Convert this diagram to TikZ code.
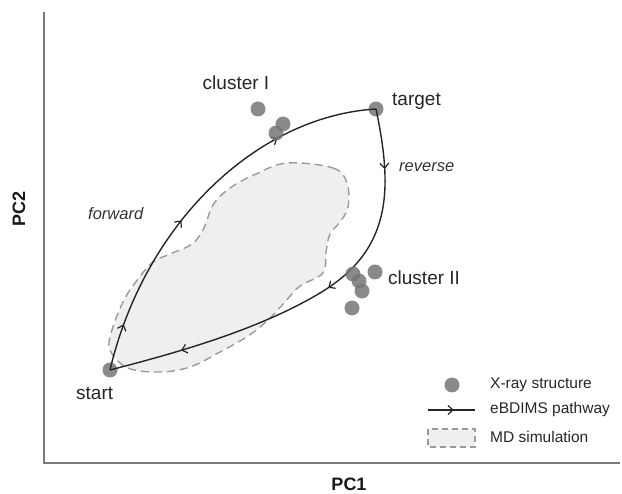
\documentclass[tikz,border=0pt]{standalone}
\usepackage{fontspec}
\setmainfont{Liberation Sans}
\usetikzlibrary{decorations.markings,arrows.meta}
\definecolor{axisgray}{HTML}{7A7A7A}
\definecolor{dotgray}{HTML}{767676}
\definecolor{mdfill}{HTML}{EFEFEF}
\definecolor{mdline}{HTML}{9A9A9A}
\definecolor{pathcol}{HTML}{252525}
\tikzset{
  axisline/.style={draw=axisgray,line width=2pt},
  xdot/.style={circle,fill=dotgray,fill opacity=0.85,minimum size=15pt,inner sep=0pt},
  mdregion/.style={fill=mdfill,draw=mdline,line width=1.4pt,dash pattern=on 8pt off 5pt},
  pathline/.style={draw=pathcol,line width=1.4pt},
  barb/.tip={Straight Barb[length=5pt,width=9pt,line width=1.2pt]},
  arrowsA/.style={postaction={decorate},decoration={markings,
     mark=at position 0.12 with {\arrow{barb}},
     mark=at position 0.42 with {\arrow{barb}},
     mark=at position 0.74 with {\arrow{barb}}}},
  arrowsB/.style={postaction={decorate},decoration={markings,
     mark=at position 0.14 with {\arrow{barb}},
     mark=at position 0.46 with {\arrow{barb}},
     mark=at position 0.83 with {\arrow{barb}}}},
  arrowsL/.style={postaction={decorate},decoration={markings,
     mark=at position 0.55 with {\arrow{barb}}}},
  lbl/.style={font=\fontsize{19}{22}\selectfont,text=black!85,inner sep=0pt},
  ilbl/.style={font=\fontsize{16.5}{20}\selectfont\itshape,text=black!80,inner sep=0pt},
  leg/.style={font=\fontsize{15.5}{18}\selectfont,text=black!85,inner sep=0pt,anchor=base west},
  axlbl/.style={font=\fontsize{18}{21}\selectfont\bfseries,text=black!90,inner sep=0pt},
}
\begin{document}
\begin{tikzpicture}[x=1pt,y=-1pt]
\useasboundingbox (0,0) rectangle (622,494);
% MD simulation region
\draw[mdregion] plot[smooth cycle,tension=0.6] coordinates {
 (287,163) (333,168) (347,183) (348,207) (340,222) (330,234) (326,252)
 (323,273) (300,286) (285,302) (268,320) (248,336) (220,352) (190,367)
 (160,372) (128,368) (110,350) (112,330) (124,300) (138,279) (153,262)
 (170,254) (192,244) (204,228) (213,205) (230,188) (256,174)};
% axes
\coordinate (ytop) at (44,12);
\coordinate (orig) at (44,463);
\coordinate (xend) at (620,463);
\draw[axisline] (ytop) -- (orig) -- (xend);
\node[axlbl] (pc1) at (349,484) {PC1};
\node[axlbl,rotate=90] (pc2) at (19,209) {PC2};
% end points
\node[xdot] (start) at (110,370) {};
\node[xdot] (target) at (376,109) {};
% pathways
\draw[pathline,arrowsA] (start.center) .. controls (145,222) and (258,116) .. (target.center);
\draw[pathline,arrowsB] (target.center) .. controls (393,190) and (392,250) .. (320,293)
   .. controls (260,329) and (180,352) .. (start.center);
% cluster I
\node[xdot] (c1a) at (258,109) {};
\node[xdot] (c1b) at (283,124) {};
\node[xdot] (c1c) at (276,133) {};
% cluster II
\node[xdot] (c2a) at (375,272) {};
\node[xdot] (c2b) at (353,274) {};
\node[xdot] (c2c) at (359,281) {};
\node[xdot] (c2d) at (362,291) {};
\node[xdot] (c2e) at (352,308) {};
% labels
\node[lbl,anchor=base] (lc1) at (236,90) {cluster I};
\node[lbl,anchor=base west] (ltg) at (392,106) {target};
\node[lbl,anchor=base west] (lc2) at (388,285) {cluster II};
\node[lbl,anchor=base west] (lst) at (76,400) {start};
\node[ilbl,anchor=base west] (lfw) at (88,220) {forward};
\node[ilbl,anchor=base west] (lrv) at (399,172) {reverse};
% legend
\node[xdot] (lgdot) at (452,385) {};
\node[leg] (lgt1) at (490,389) {X-ray structure};
\coordinate (lga) at (428,410);
\coordinate (lgb) at (475,410);
\draw[pathline,arrowsL] (lga) -- (lgb);
\node[leg] (lgt2) at (490,414) {eBDIMS pathway};
\coordinate (lbx1) at (428,429);
\coordinate (lbx2) at (475,447);
\draw[mdregion,line width=1.2pt,dash pattern=on 6pt off 4pt] (lbx1) rectangle (lbx2);
\node[leg] (lgt3) at (490,443) {MD simulation};
\end{tikzpicture}
\end{document}
